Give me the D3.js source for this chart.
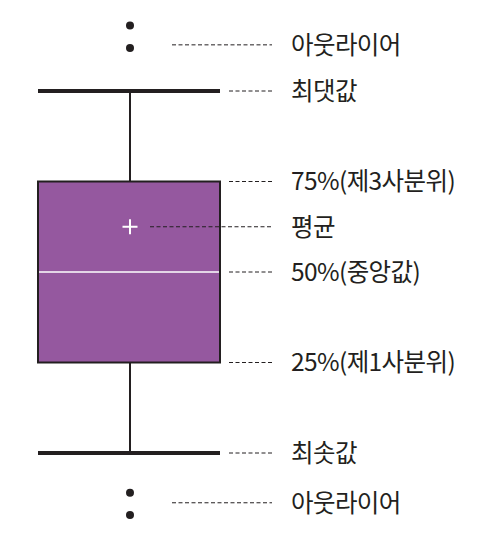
<!DOCTYPE html>
<html><head><meta charset="utf-8">
<script src="https://cdn.jsdelivr.net/npm/d3@7"></script>
<style>html,body{margin:0;padding:0;background:#fff}</style>
</head><body><svg id="c" width="486" height="546"></svg>
<script>
// Box-plot summary values (arbitrary units)
const stats = {min: 2, q1: 4, median: 6, mean: 7, q3: 8, max: 10};
const outliersTop = [11.45, 10.95];
const outliersBottom = [1.12, 0.63];
// annotation labels and the value each one points at
const labelNames = ["아웃라이어", "최댓값", "75%(제3사분위)", "평균", "50%(중앙값)", "25%(제1사분위)", "최솟값", "아웃라이어"];
const labelValues = [11.02, 10, 8, 7, 6, 4, 2, 0.9];
const labelKinds = ["outlier", "edge", "edge", "mean", "edge", "edge", "edge", "outlier"];

const svg = d3.select("#c");
const y = d3.scaleLinear().domain([2, 10]).range([453, 91]);
const x = d3.scaleLinear().domain([0, 1]).range([38, 220]);
const cx = x(0.5) + 1;
const ink = "#231f20";

// whiskers
svg.append("line").attr("x1", cx).attr("x2", cx).attr("y1", y(stats.max)).attr("y2", y(stats.q3))
  .attr("stroke", ink).attr("stroke-width", 2);
svg.append("line").attr("x1", cx).attr("x2", cx).attr("y1", y(stats.q1)).attr("y2", y(stats.min))
  .attr("stroke", ink).attr("stroke-width", 2);
// caps
[stats.max, stats.min].forEach(v => {
  svg.append("line").attr("x1", x(0)).attr("x2", x(1)).attr("y1", y(v)).attr("y2", y(v))
    .attr("stroke", ink).attr("stroke-width", 4);
});
// box
svg.append("rect").attr("x", x(0)).attr("y", y(stats.q3)).attr("width", x(1) - x(0))
  .attr("height", y(stats.q1) - y(stats.q3)).attr("fill", "#95589f").attr("stroke", ink).attr("stroke-width", 2);
// median
svg.append("line").attr("x1", x(0) + 1).attr("x2", x(1) - 1).attr("y1", y(stats.median)).attr("y2", y(stats.median))
  .attr("stroke", "#fff").attr("stroke-width", 1.5);
// mean plus
const my = y(stats.mean);
svg.append("path").attr("d", `M${cx - 7.5},${my}H${cx + 7.5}M${cx},${my - 7.5}V${my + 7.5}`)
  .attr("stroke", "#fff").attr("stroke-width", 2);
// outliers
svg.selectAll("circle.o").data(outliersTop.concat(outliersBottom)).join("circle")
  .attr("cx", cx).attr("cy", d => y(d)).attr("r", 4).attr("fill", ink);

// leaders and labels
const startX = {outlier: 172, edge: 229, mean: 150};
labelNames.forEach((name, i) => {
  const ly = y(labelValues[i]);
  svg.append("line").attr("x1", startX[labelKinds[i]]).attr("x2", 272).attr("y1", ly).attr("y2", ly)
    .attr("stroke", ink).attr("stroke-width", 1).attr("stroke-dasharray", "4,2.5");
  svg.append("text").attr("x", 291).attr("y", ly).attr("dy", "0.36em")
    .attr("font-family", "'Noto Sans CJK KR', 'Noto Sans', sans-serif").attr("font-size", 24.5)
    .attr("letter-spacing", -0.6).attr("fill", ink).text(name);
});
</script></body></html>
